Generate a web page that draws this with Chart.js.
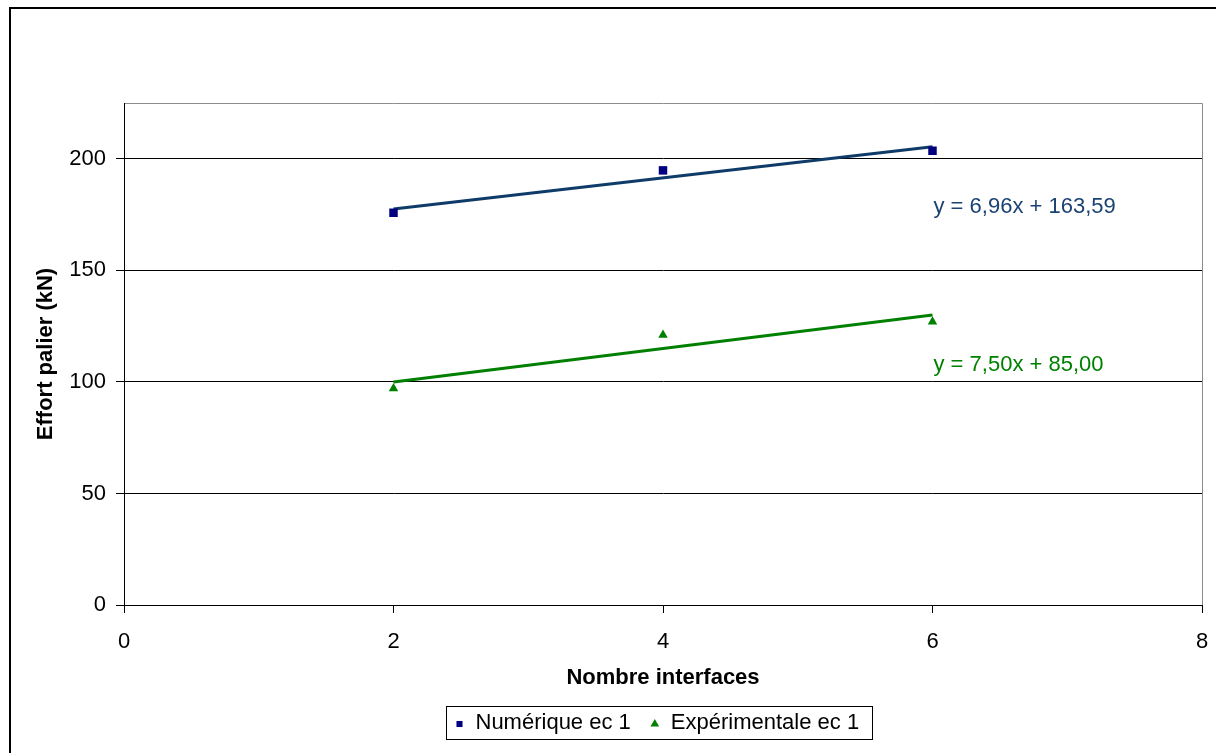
<!DOCTYPE html>
<html>
<head>
<meta charset="utf-8">
<script src="https://cdn.jsdelivr.net/npm/chart.js@4/dist/chart.umd.min.js"></script>
<style>
  html, body { margin: 0; padding: 0; background: #fff; }
  #wrap { width: 1216px; height: 753px; position: relative; }
</style>
</head>
<body>
<div id="wrap"><canvas id="myChart" width="1216" height="753"></canvas></div>
<script>
// values
const interfaces = [2, 4, 6]
const numerique = [175.8, 194.8, 203.6]
const experimentale = [97, 121, 127]

// trend lines (ends at x = 2 and x = 6, from the printed equations)
const trendX = [2, 6]
const trendNum = [177.51, 205.35]
const trendExp = [100, 130]
const equations = ['y = 6,96x + 163,59', 'y = 7,50x + 85,00']
const equationAt = [178.5, 107.5] // y value where each equation is written

const xTicks = [0, 2, 4, 6, 8]
const yTicks = [0, 50, 100, 150, 200]

const FONT = '"Liberation Sans", Arial, sans-serif'
const BLUE = '#000080'
const BLUE_LINE = '#0f3b69'
const GREEN = '#008000'

function pts(xs, ys) {
  return xs.map((x, i) => ({ x: x, y: ys[i] }))
}

// outer frame + grey border on top/right of the plot area
const frame = {
  id: 'frame',
  beforeDraw(chart) {
    const ctx = chart.ctx
    const a = chart.chartArea
    ctx.save()
    ctx.strokeStyle = '#000'
    ctx.lineWidth = 2
    ctx.strokeRect(10, 8, 1220, 760)
    ctx.strokeStyle = '#8c8c8c'
    ctx.lineWidth = 1
    ctx.beginPath()
    ctx.moveTo(a.left, Math.round(a.top) + 0.5)
    ctx.lineTo(Math.round(a.right) + 0.5, Math.round(a.top) + 0.5)
    ctx.lineTo(Math.round(a.right) + 0.5, a.bottom)
    ctx.stroke()
    ctx.restore()
  }
}

// equations next to the trend lines
const equationText = {
  id: 'equationText',
  afterDatasetsDraw(chart) {
    const ctx = chart.ctx
    const xs = chart.scales.x, ys = chart.scales.y
    const colors = ['#1a4272', GREEN]
    ctx.save()
    ctx.font = '22px ' + FONT
    ctx.textAlign = 'left'
    ctx.textBaseline = 'middle'
    equations.forEach((txt, i) => {
      ctx.fillStyle = colors[i]
      ctx.fillText(txt, xs.getPixelForValue(6) + 1, ys.getPixelForValue(equationAt[i]))
    })
    ctx.restore()
  }
}

// boxed legend under the axis title
const legendBox = {
  id: 'legendBox',
  afterDraw(chart) {
    const ctx = chart.ctx
    const items = chart.data.datasets.filter(d => !d.trend)
    ctx.save()
    ctx.font = '22px ' + FONT
    const widths = items.map(d => ctx.measureText(d.label).width)
    const markerToText = 16, itemGap = 24, padL = 13, padR = 13
    let inner = 0
    widths.forEach((w, i) => { inner += markerToText + w + (i < widths.length - 1 ? itemGap : 0) })
    const boxW = Math.round(padL + inner + padR)
    const boxH = 33
    const cx = (chart.chartArea.left + chart.chartArea.right) / 2 - 4
    const left = Math.round(cx - boxW / 2) + 0.5
    const top = 706.5
    ctx.strokeStyle = '#000'
    ctx.lineWidth = 1
    ctx.strokeRect(left, top, boxW, boxH)
    let x = left + padL
    const y = top + boxH / 2
    items.forEach((d, i) => {
      ctx.fillStyle = d.pointBackgroundColor
      ctx.strokeStyle = d.pointBackgroundColor
      Chart.helpers.drawPoint(ctx, { pointStyle: d.pointStyle, radius: d.pointStyle === 'rect' ? 4.3 : 5, borderWidth: 0 }, x, y + 1)
      ctx.fillStyle = '#000'
      ctx.textAlign = 'left'
      ctx.textBaseline = 'middle'
      ctx.fillText(d.label, x + markerToText, y)
      x += markerToText + widths[i] + itemGap
    })
    ctx.restore()
  }
}

const ctx = document.getElementById('myChart').getContext('2d')
const chart = new Chart(ctx, {
  type: 'scatter',
  data: {
    datasets: [
      {
        label: 'Numérique ec 1',
        data: pts(interfaces, numerique),
        pointStyle: 'rect',
        pointRadius: 6,
        pointHoverRadius: 6,
        pointBackgroundColor: BLUE,
        pointBorderWidth: 0,
        borderColor: BLUE,
        showLine: false,
        order: 0
      },
      {
        label: 'Expérimentale ec 1',
        data: pts(interfaces, experimentale),
        pointStyle: 'triangle',
        pointRadius: 5.5,
        pointHoverRadius: 5.5,
        pointBackgroundColor: GREEN,
        pointBorderWidth: 0,
        borderColor: GREEN,
        showLine: false,
        order: 0
      },
      {
        label: 'trend num',
        trend: true,
        data: pts(trendX, trendNum),
        showLine: true,
        borderColor: BLUE_LINE,
        borderWidth: 3,
        pointRadius: 0,
        order: 1
      },
      {
        label: 'trend exp',
        trend: true,
        data: pts(trendX, trendExp),
        showLine: true,
        borderColor: GREEN,
        borderWidth: 3,
        pointRadius: 0,
        order: 1
      }
    ]
  },
  options: {
    responsive: false,
    animation: false,
    layout: { padding: { top: 103, right: 14, bottom: 62, left: 0 } },
    plugins: {
      legend: { display: false },
      tooltip: { enabled: false }
    },
    scales: {
      x: {
        type: 'linear',
        min: 0,
        max: 8,
        afterBuildTicks: s => { s.ticks = xTicks.map(v => ({ value: v })) },
        afterFit: s => { s.height = 86; s.paddingLeft = 0; s.paddingRight = 0 },
        ticks: { color: '#000', padding: 16, font: { family: FONT, size: 22 }, maxRotation: 0 },
        grid: { drawOnChartArea: false, tickLength: 8, color: '#000' },
        border: { color: '#000' },
        title: {
          display: true,
          text: 'Nombre interfaces',
          color: '#000',
          font: { family: FONT, size: 22, weight: 'bold' },
          padding: { top: 0, bottom: 0 }
        }
      },
      y: {
        min: 0,
        max: 225,
        afterBuildTicks: s => { s.ticks = yTicks.map(v => ({ value: v })) },
        afterFit: s => { s.width = 124; s.paddingTop = 0; s.paddingBottom = 0 },
        ticks: { color: '#000', padding: 10, font: { family: FONT, size: 22 } },
        grid: { color: '#000', tickLength: 8 },
        border: { color: '#000' },
        title: {
          display: true,
          text: 'Effort palier (kN)',
          color: '#000',
          font: { family: FONT, size: 22, weight: 'bold' },
          padding: { top: 33, bottom: 0 }
        }
      }
    }
  },
  plugins: [frame, equationText, legendBox]
})
</script>
</body>
</html>
